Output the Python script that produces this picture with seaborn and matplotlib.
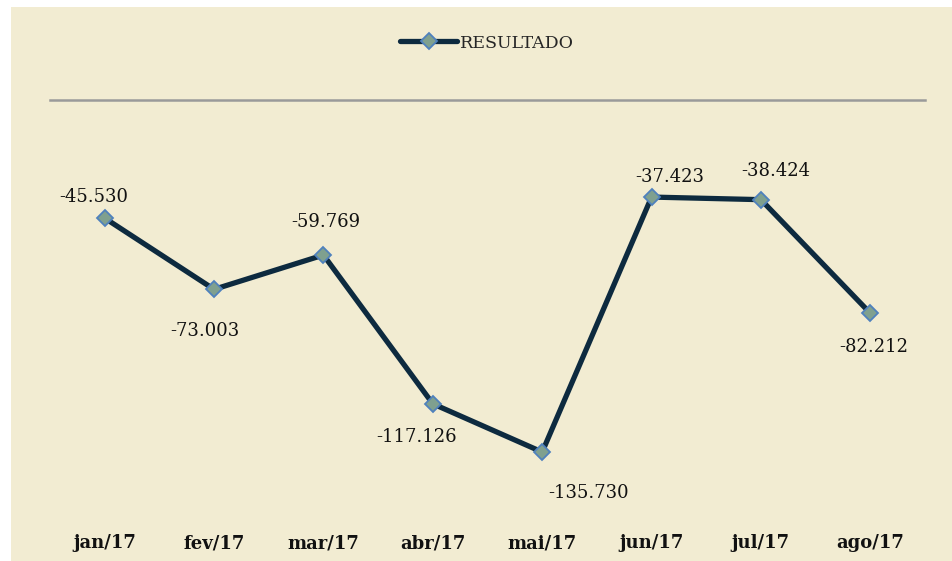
import matplotlib
matplotlib.use("Agg")
import matplotlib.pyplot as plt
import matplotlib.patches as mpatches
import seaborn as sns
import pandas as pd

meses = ["jan/17", "fev/17", "mar/17", "abr/17", "mai/17", "jun/17", "jul/17", "ago/17"]
resultado = [-45.530, -73.003, -59.769, -117.126, -135.730, -37.423, -38.424, -82.212]
rotulos = ["-45.530", "-73.003", "-59.769", "-117.126", "-135.730", "-37.423", "-38.424", "-82.212"]

# label offsets in pixels (dx, dy up positive)
offsets = [(-11, 21), (-9, -42), (2, 33), (-16, -33), (46, -41), (18, 20), (15, 29), (3, -34)]

sns.set_theme(style="white")
plt.rcParams["font.family"] = ["DejaVu Serif"]

BG = "#F2ECD2"
fig = plt.figure(figsize=(9.52, 5.61), dpi=100)
fig.patch.set_facecolor("white")
bgrect = mpatches.Rectangle((11 / 952, 0), 1 - 11 / 952, 1 - 7 / 561,
                            transform=fig.transFigure, facecolor=BG,
                            edgecolor="none", zorder=-10)
fig.patches.append(bgrect)

ax = fig.add_axes([50 / 952, 1 - 515 / 561, 875 / 952, 415 / 561])
ax.set_facecolor("none")
ax.set_zorder(5)

df = pd.DataFrame({"mes": meses, "resultado": resultado})
sns.lineplot(data=df, x="mes", y="resultado", ax=ax, color="#0D2A3F", linewidth=3.8,
             marker="D", markersize=8, markerfacecolor="#7FA08F",
             markeredgecolor="#4F81BD", markeredgewidth=1.3, label="RESULTADO",
             sort=False)

ax.set_xlim(-0.5, len(meses) - 0.5)
ax.set_ylim(-160, 0)
ax.set_xlabel("")
ax.set_ylabel("")
ax.set_yticks([])
ax.set_xticks(range(len(meses)))
ax.set_xticklabels(meses, fontsize=13, fontweight="bold", color="#111111")
ax.tick_params(axis="x", length=0, pad=14)
for s in ["left", "right", "bottom"]:
    ax.spines[s].set_visible(False)
ax.spines["top"].set_color("#9A9A9A")
ax.spines["top"].set_linewidth(1.8)

for i, (v, t) in enumerate(zip(resultado, rotulos)):
    dx, dy = offsets[i]
    ax.annotate(t, (i, v), xytext=(dx * 0.72, dy * 0.72), textcoords="offset points",
                ha="center", va="center", fontsize=13, color="#111111")

leg = ax.get_legend()
leg.remove()
h, l = ax.get_legend_handles_labels()
fig.legend(h, l, loc="center", bbox_to_anchor=(487 / 952, 1 - 43 / 561),
           frameon=False, fontsize=12.5, handlelength=3.3, handletextpad=0.15)

fig.savefig("out.png", dpi=100, facecolor="white")
